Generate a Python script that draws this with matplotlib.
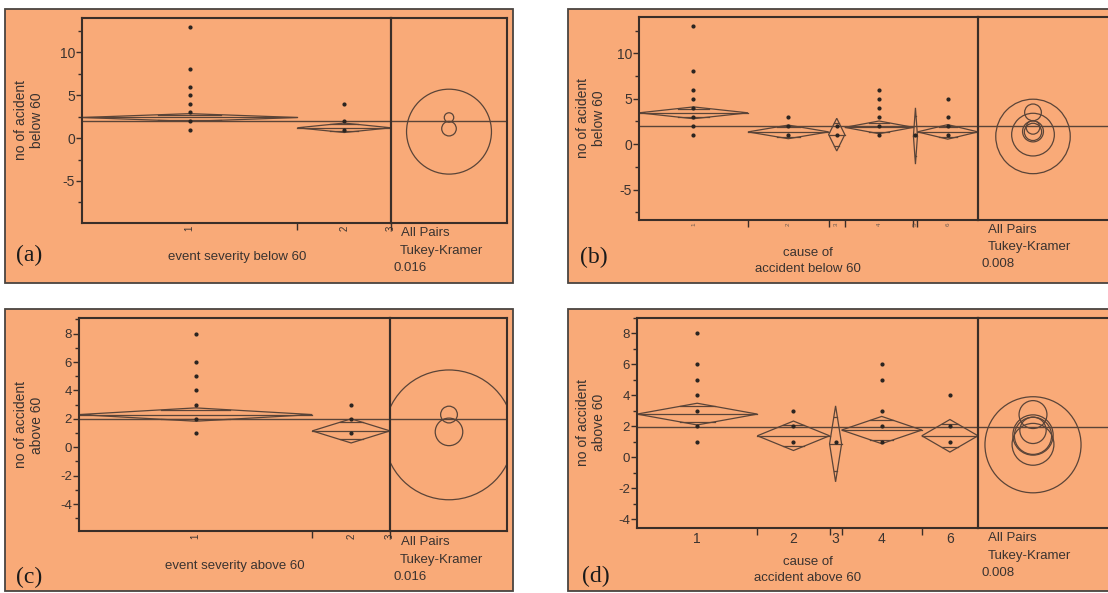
import matplotlib
matplotlib.use("Agg")
import matplotlib.pyplot as plt
from matplotlib.patches import Rectangle, Polygon, Circle
from matplotlib.ticker import MultipleLocator
import numpy as np

W, H = 1108, 593
ORANGE = '#f9aa78'
INK = '#5a4438'
AXC = '#3a2e28'
TXT = '#3a3330'

plt.rcParams['font.family'] = ['Liberation Sans', 'DejaVu Sans']
plt.rcParams['axes.unicode_minus'] = False

# ---- (a) event severity below 60
a_n = [23, 10]
a_labels = ['1', '2']
a_points = [[13, 8, 6, 5, 4, 3, 2, 1], [4, 2, 1]]
a_mean = [2.4, 1.2]
a_half = [0.45, 0.55]
a_grand = 1.95
a_circ_c = [2.4, 1.1, 0.75]
a_circ_r = [0.55, 0.85, 4.95]

# ---- (b) cause of accident below 60
b_n = [27, 20, 4, 17, 1, 15]
b_labels = ['1', '2', '3', '4', '5', '6']
b_points = [[13, 8, 6, 5, 4, 3, 2, 1], [3, 2, 1], [2, 1],
            [6, 5, 4, 3, 2, 1], [1], [5, 3, 2, 1]]
b_mean = [3.45, 1.35, 1.05, 1.85, 0.9, 1.35]
b_half = [0.65, 0.75, 1.8, 0.7, 3.1, 0.8]
b_grand = 2.05
b_circ_c = [3.5, 1.35, 1.05, 1.85, 0.85, 1.4]
b_circ_r = [0.92, 0.95, 2.35, 0.75, 4.1, 1.15]

# ---- (c) event severity above 60
c_n = [24, 8]
c_labels = ['1', '2']
c_points = [[8, 6, 5, 4, 3, 2, 1], [3, 2, 1]]
c_mean = [2.3, 1.15]
c_half = [0.47, 0.85]
c_grand = 2.0
c_circ_c = [2.3, 1.08, 0.87]
c_circ_r = [0.59, 0.97, 4.57]

# ---- (d) cause of accident above 60
d_n = [30, 18, 3, 20, 14]
d_labels = ['1', '2', '3', '4', '6']
d_points = [[8, 6, 5, 4, 3, 2, 1], [3, 2, 1], [1], [6, 5, 3, 2, 1], [4, 2, 1]]
d_mean = [2.8, 1.4, 0.88, 1.77, 1.4]
d_half = [0.7, 0.95, 2.45, 0.88, 1.05]
d_grand = 1.95
d_circ_c = [2.77, 1.4, 0.85, 1.75, 1.45, 0.82]
d_circ_r = [0.9, 1.2, 1.35, 0.85, 1.3, 3.1]


def frac(x0, y0, x1, y1):
    return [x0 / W, 1 - y1 / H, (x1 - x0) / W, (y1 - y0) / H]


def draw_panel(fig, p):
    x0, y0, x1, y1 = p['box']
    fig.patches.append(Rectangle((x0 / W, 1 - y1 / H), (x1 - x0) / W, (y1 - y0) / H,
                                 transform=fig.transFigure, facecolor=ORANGE,
                                 edgecolor='#4a4440', lw=1.3, zorder=-1))

    mx0, my0, mx1, my1 = p['main']
    ax = fig.add_axes(frac(mx0, my0, mx1, my1))
    ax.set_zorder(2)
    ax.set_facecolor('none')
    n = np.array(p['n'], dtype=float)
    edges = np.concatenate([[0], np.cumsum(n)])
    centers = (edges[:-1] + edges[1:]) / 2
    ax.set_xlim(0, edges[-1])
    ax.set_ylim(*p['ylim'])

    ax.axhline(p['grand'], color=INK, lw=1.0)
    s = 1 / np.sqrt(2)
    for i, (m, h) in enumerate(zip(p['mean'], p['half'])):
        l, r, c = edges[i], edges[i + 1], centers[i]
        hw = (r - l) / 2
        ax.add_patch(Polygon([(l, m), (c, m + h), (r, m), (c, m - h)], closed=True,
                             fill=False, edgecolor=INK, lw=0.9))
        ax.plot([l, r], [m, m], color=INK, lw=0.9)
        for sg in (1, -1):
            ax.plot([c - hw * (1 - s), c + hw * (1 - s)], [m + sg * h * s] * 2,
                    color=INK, lw=0.9)
        ax.plot([c] * len(p['points'][i]), p['points'][i], 'o', ms=2.0,
                color='#2a2420', zorder=5)

    ax.yaxis.set_major_locator(MultipleLocator(p['major']))
    ax.yaxis.set_minor_locator(MultipleLocator(p['major'] / 2))
    ax.tick_params(axis='y', which='major', length=4, width=1, color=AXC,
                   labelsize=p['ysize'], labelcolor=TXT, pad=1)
    ax.tick_params(axis='y', which='minor', length=3, width=1, color=AXC)

    ax.xaxis.remove_overlapping_locs = False
    seps = list(edges[1:p['nsep'] + 1])
    ax.set_xticks(seps)
    ax.set_xticklabels([''] * len(seps))
    ax.tick_params(axis='x', which='major', length=5, width=1, color=AXC)
    lab_x = list(centers)
    lab_t = list(p['labels'])
    if p.get('end_label'):
        lab_x.append(edges[-1])
        lab_t.append(p['end_label'])
    ax.set_xticks(lab_x, minor=True)
    ax.set_xticklabels(lab_t, minor=True, rotation=p['xrot'], fontsize=p['xsize'],
                       color=p['xcol'])
    ax.tick_params(axis='x', which='minor', length=0, pad=p['xpad'])
    for sp in ax.spines.values():
        sp.set_color(AXC)
        sp.set_linewidth(1.5)

    # comparison circles
    cx0, cx1, ccx = p['circ']
    axc = fig.add_axes(frac(cx0, my0, cx1, my1))
    axc.set_zorder(2)
    axc.set_facecolor('none')
    yl = p['ylim']
    ppu = (my1 - my0) / (yl[1] - yl[0])
    axc.set_xlim(-(ccx - cx0) / ppu, (cx1 - ccx) / ppu)
    axc.set_ylim(*yl)
    axc.axhline(p['grand'], color=INK, lw=1.0)
    for c, r in zip(p['circ_c'], p['circ_r']):
        axc.add_patch(Circle((0, c), r, fill=False, edgecolor=INK, lw=0.9))
    axc.set_xticks([])
    axc.set_yticks([])
    for sp in axc.spines.values():
        sp.set_color(AXC)
        sp.set_linewidth(1.5)

    # texts
    yx, yy = p['ylabel_pos']
    fig.text(yx / W, 1 - yy / H, p['ylabel'], rotation=90, ha='center', va='center',
             fontsize=10, color=TXT, linespacing=1.25)
    for (tx, ty), t in zip(p['xlabel_pos'], p['xlabel']):
        fig.text(tx / W, 1 - ty / H, t, ha='center', va='center', fontsize=9.5, color=TXT)
    for (tx, ty), t in zip(p['stat_pos'], ['All Pairs', 'Tukey-Kramer', p['alpha']]):
        fig.text(tx / W, 1 - ty / H, t, ha='left', va='center', fontsize=9.5, color=TXT)
    gx, gy = p['tag_pos']
    fig.text(gx / W, 1 - gy / H, p['tag'], ha='left', va='center', fontsize=17,
             color='#1a1a1a', family=['Liberation Serif', 'DejaVu Serif'])


fig = plt.figure(figsize=(W / 100, H / 100), dpi=100)
fig.patch.set_facecolor('white')

panels = [
    dict(box=(5, 9, 513, 283), main=(82, 18, 391, 223), circ=(391, 507, 449),
         n=a_n, labels=a_labels, end_label='3', points=a_points,
         mean=a_mean, half=a_half, grand=a_grand, circ_c=a_circ_c, circ_r=a_circ_r,
         ylim=(-9.9, 14.0), major=5, ysize=10, nsep=2, xrot=90, xsize=7,
         xcol=TXT, xpad=2,
         ylabel='no of acident\nbelow 60', ylabel_pos=(29, 120),
         xlabel=['event severity below 60'], xlabel_pos=[(237, 257)],
         stat_pos=[(401, 233), (400, 251), (394, 268)], alpha='0.016',
         tag='(a)', tag_pos=(16, 255)),
    dict(box=(568, 9, 1125, 283), main=(639, 17, 978, 220), circ=(978, 1135, 1033),
         n=b_n, labels=b_labels, points=b_points,
         mean=b_mean, half=b_half, grand=b_grand, circ_c=b_circ_c, circ_r=b_circ_r,
         ylim=(-8.35, 14.0), major=5, ysize=10, nsep=5, xrot=90, xsize=4.5,
         xcol='#6a5a50', xpad=2,
         ylabel='no of acident\nbelow 60', ylabel_pos=(591, 118),
         xlabel=['cause of', 'accident below 60'],
         xlabel_pos=[(808, 253), (808, 269)],
         stat_pos=[(988, 230), (988, 247), (981, 264)], alpha='0.008',
         tag='(b)', tag_pos=(580, 257)),
    dict(box=(5, 309, 513, 591), main=(79, 318, 390, 531), circ=(390, 507, 449),
         n=c_n, labels=c_labels, end_label='3', points=c_points,
         mean=c_mean, half=c_half, grand=c_grand, circ_c=c_circ_c, circ_r=c_circ_r,
         ylim=(-5.9, 9.1), major=2, ysize=9.5, nsep=2, xrot=90, xsize=7,
         xcol=TXT, xpad=2,
         ylabel='no of accident\nabove 60', ylabel_pos=(29, 425),
         xlabel=['event severity above 60'], xlabel_pos=[(235, 566)],
         stat_pos=[(401, 542), (400, 560), (393, 577)], alpha='0.016',
         tag='(c)', tag_pos=(16, 577)),
    dict(box=(568, 309, 1125, 591), main=(637, 318, 978, 528), circ=(978, 1135, 1033),
         n=d_n, labels=d_labels, points=d_points,
         mean=d_mean, half=d_half, grand=d_grand, circ_c=d_circ_c, circ_r=d_circ_r,
         ylim=(-4.55, 9.0), major=2, ysize=9.5, nsep=4, xrot=0, xsize=10,
         xcol=TXT, xpad=3,
         ylabel='no of accident\nabove 60', ylabel_pos=(591, 422),
         xlabel=['cause of', 'accident above 60'],
         xlabel_pos=[(808, 562), (808, 578)],
         stat_pos=[(988, 538), (988, 556), (981, 573)], alpha='0.008',
         tag='(d)', tag_pos=(582, 576)),
]

for p in panels:
    draw_panel(fig, p)

fig.savefig('out.png', dpi=100, facecolor='white')
